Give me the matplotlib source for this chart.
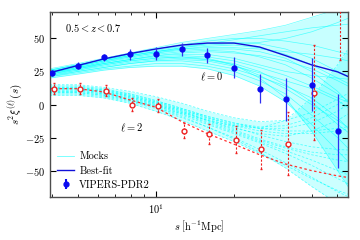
import numpy as np
import matplotlib
matplotlib.use('Agg')
import matplotlib.pyplot as plt
from matplotlib.lines import Line2D

plt.rcParams['font.family'] = 'serif'
plt.rcParams['font.serif'] = ['cmr10', 'DejaVu Serif']
plt.rcParams['mathtext.fontset'] = 'cm'
plt.rcParams['axes.formatter.use_mathtext'] = True

# separations of the measurements (h^-1 Mpc)
s_mono = [3.98, 5.01, 6.31, 7.94, 10.0, 12.6, 15.8, 20.0, 25.1, 31.6, 39.8, 50.1]
s_quad = [4.05, 5.10, 6.42, 8.08, 10.2, 12.8, 16.1, 20.3, 25.5, 32.2, 40.5, 51.0]

# VIPERS-PDR2 measurements
xi0 = [23.7, 29.5, 35.6, 37.9, 38.6, 41.7, 37.1, 28.0, 12.1, 3.8, 15.0, -19.7]
xi0_err = [2.5, 2.5, 3.0, 4.0, 5.0, 5.0, 5.7, 8.0, 11.0, 16.0, 20.0, 28.0]
xi2 = [12.0, 12.1, 10.6, 0.0, -0.8, -19.7, -22.0, -26.5, -34.0, -29.5, 9.0, 80.0]
xi2_err = [4.0, 4.0, 4.0, 5.0, 5.0, 6.0, 7.5, 10.0, 15.0, 24.0, 36.0, 46.0]

# best-fit model
s_model = [3.9, 5.01, 6.31, 7.94, 10.0, 12.6, 15.8, 20.0, 25.1, 31.6, 39.8, 50.1, 63.1]
fit0 = [24.0, 29.5, 34.5, 38.5, 42.0, 45.0, 46.5, 46.5, 43.5, 37.0, 30.0, 24.7, 16.0]
fit2 = [12.0, 12.0, 9.5, 3.5, -2.0, -13.0, -22.0, -30.0, -38.0, -45.0, -50.0, -54.0, -57.0]

s_mocks = [3.9, 5.01, 6.31, 7.94, 10.0, 12.6, 15.8, 20.0, 25.1, 31.6, 39.8, 50.1, 63.1]
mocks0 = [
    [26, 30, 34, 38, 41, 44, 46, 47, 46, 42, 35, 25, 15],
    [24, 28, 32, 35, 38, 40, 41, 40, 36, 30, 20, 8, -5],
    [22, 26, 29, 32, 34, 35, 34, 31, 25, 15, 2, -15, -30],
    [25, 29, 33, 37, 40, 43, 46, 49, 52, 55, 58, 60, 62],
    [21, 24, 27, 29, 31, 31, 29, 25, 18, 8, -8, -25, -45],
    [23, 27, 31, 34, 37, 39, 40, 39, 37, 33, 27, 18, 8],
    [27, 31, 35, 39, 43, 47, 50, 53, 56, 60, 66, 72, 78],
    [20, 23, 26, 28, 29, 29, 27, 22, 14, 2, -15, -35, -55],
    [24, 28, 31, 34, 36, 37, 36, 33, 28, 22, 14, 5, -3],
    [25, 29, 33, 36, 39, 42, 44, 45, 43, 38, 30, 20, 10],
    [23, 26, 30, 33, 35, 36, 35, 30, 22, 12, 0, -12, -25],
    [26, 30, 34, 38, 42, 45, 48, 50, 50, 48, 45, 40, 35],
    [22, 25, 28, 31, 33, 33, 31, 27, 21, 14, 5, -10, -30],
    [24, 28, 32, 36, 39, 41, 42, 42, 40, 35, 25, 10, -10],
    [25, 29, 33, 37, 40, 43, 45, 46, 47, 50, 55, 62, 70],
    [21, 25, 28, 31, 33, 34, 33, 29, 24, 18, 12, 3, -10],
    [23, 27, 30, 33, 35, 36, 34, 30, 20, 5, -20, -50, -80],
    [26, 30, 34, 37, 40, 42, 43, 43, 42, 40, 38, 35, 30],
    [24, 27, 31, 34, 37, 38, 38, 35, 30, 25, 22, 20, 18],
]
mocks2 = [
    [14, 14, 12, 8, 3, -3, -9, -14, -18, -20, -20, -18, -15],
    [10, 10, 8, 4, -1, -7, -14, -21, -28, -35, -42, -50, -58],
    [12, 12, 10, 6, 1, -5, -12, -18, -22, -24, -20, -12, 0],
    [8, 8, 6, 2, -3, -10, -17, -25, -34, -44, -55, -66, -75],
    [13, 13, 11, 7, 2, -4, -10, -16, -20, -22, -22, -20, -16],
    [11, 11, 9, 5, 0, -6, -12, -19, -26, -32, -36, -38, -38],
    [9, 9, 7, 3, -2, -8, -15, -22, -29, -37, -46, -56, -66],
    [15, 15, 13, 10, 6, 1, -5, -10, -13, -12, -6, 4, 15],
    [10, 10, 8, 4, -1, -7, -13, -20, -27, -33, -38, -42, -45],
    [12, 12, 10, 6, 1, -5, -11, -17, -23, -28, -32, -34, -35],
    [7, 7, 5, 1, -5, -12, -20, -28, -37, -46, -56, -65, -72],
    [13, 13, 11, 8, 3, -3, -9, -14, -17, -16, -10, 0, 10],
    [11, 11, 9, 5, 0, -6, -12, -16, -18, -12, 5, 30, 60],
    [9, 9, 7, 3, -2, -9, -17, -26, -36, -48, -62, -75, -85],
    [12, 12, 10, 7, 2, -4, -10, -15, -18, -18, -14, -5, 8],
]

fig = plt.figure(figsize=(3.6, 2.4), dpi=100)
ax = fig.add_axes([0.139, 0.179, 0.828, 0.771])

m0 = np.array(mocks0, dtype=float)
m2 = np.array(mocks2, dtype=float)
ax.fill_between(s_mocks, m0.min(axis=0), m0.max(axis=0), color='cyan', alpha=0.22, lw=0)
ax.fill_between(s_mocks, m2.min(axis=0), m2.max(axis=0), color='cyan', alpha=0.2, lw=0)
for m in mocks0:
    ax.plot(s_mocks, m, color='cyan', lw=0.5, alpha=0.6)
for m in mocks2:
    ax.plot(s_mocks, m, color='cyan', lw=0.6, alpha=0.6, ls=(0, (3, 2)))

ax.plot(s_model, fit0, color='#1010d8', lw=1.0)
ax.plot(s_model, fit2, color='#ff3030', lw=0.9, ls=(0, (2, 2)))

eb = ax.errorbar(s_quad, xi2, yerr=xi2_err, fmt='o', ms=3.5, mfc='white', mec='#ee2020',
                 mew=1.0, ecolor='#ee2020', elinewidth=0.8, capsize=1.0, zorder=5)
eb[2][0].set_linestyle((0, (2, 1.5)))
ax.errorbar(s_mono, xi0, yerr=xi0_err, fmt='o', ms=3.5, color='#0a0af0',
            ecolor='#3030f0', elinewidth=0.9, capsize=0, zorder=6)

ax.set_xscale('log')
ax.set_xlim(3.92, 55)
ax.set_ylim(-70, 70)
ax.set_yticks([-50, -25, 0, 25, 50])
ax.tick_params(which='both', direction='in', top=True, right=True, labelsize=7.5)
ax.tick_params(which='major', length=4)
ax.tick_params(which='minor', length=2.5)
for sp in ax.spines.values():
    sp.set_color('0.3')
    sp.set_linewidth(1.0)

ax.set_xlabel(r'$s\ \left[\mathrm{h^{-1}Mpc}\right]$', fontsize=7.5, labelpad=2)
ax.set_ylabel(r'$s^2\xi^{(\ell)}(s)$', fontsize=8, labelpad=0)

ax.text(0.05, 0.89, r'$0.5 < z < 0.7$', transform=ax.transAxes, fontsize=7.5)
ax.text(14.8, 21, r'$\ell=0$', fontsize=7.5, va='center')
ax.text(7.3, -17.5, r'$\ell=2$', fontsize=7.5, va='center')

handles = [
    Line2D([], [], color='cyan', lw=0.6, alpha=0.6),
    Line2D([], [], color='#1010d8', lw=1.0),
]
hl = ax.errorbar([], [], yerr=[], fmt='o', ms=3.5, color='#0a0af0')
ax.legend(handles + [hl], ['Mocks', 'Best-fit', 'VIPERS-PDR2'], loc='lower left',
          frameon=False, fontsize=7.5, handlelength=1.6, labelspacing=0.45,
          handletextpad=0.5, borderaxespad=0.3)

fig.savefig('out.png', dpi=100)
